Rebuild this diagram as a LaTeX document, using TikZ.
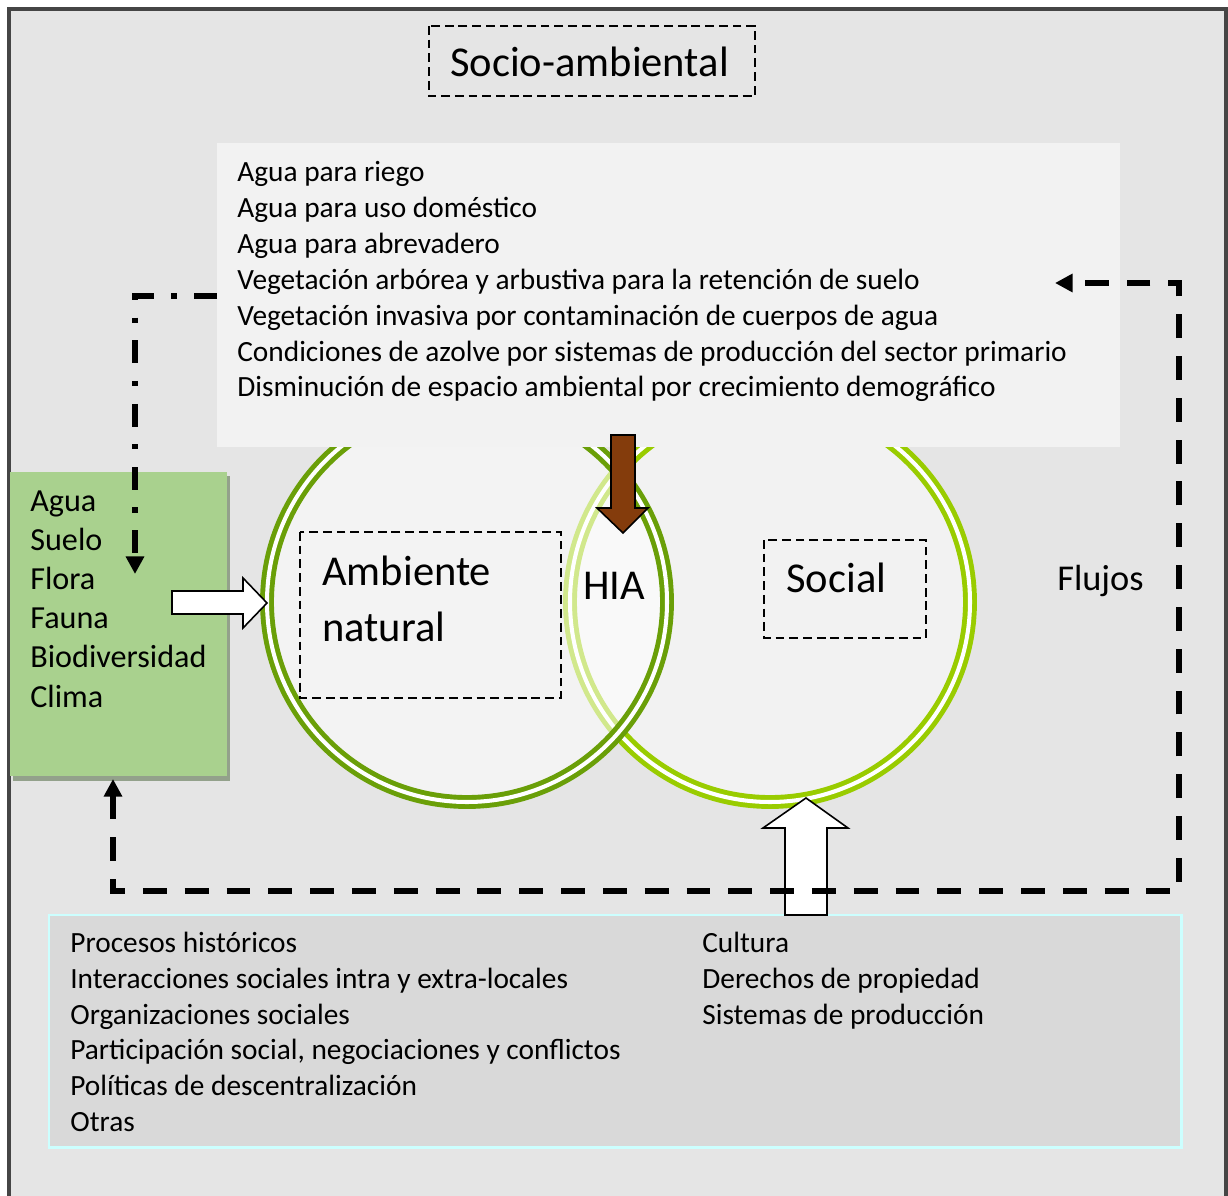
\documentclass[tikz,border=0pt]{standalone}
\usepackage{fontspec}
\setmainfont{Carlito}
\usepackage{tikz}
\usetikzlibrary{arrows.meta}

\definecolor{fondo}{HTML}{E5E5E5}
\definecolor{marco}{HTML}{454545}
\definecolor{claro}{HTML}{F2F2F2}
\definecolor{verdeosc}{HTML}{6A9F08}
\definecolor{verdecla}{HTML}{99CC00}
\definecolor{verdecaja}{HTML}{A9D18E}
\definecolor{sombra}{HTML}{93A18B}
\definecolor{cafe}{HTML}{843C0C}
\definecolor{grisbajo}{HTML}{D9D9D9}
\definecolor{cian}{HTML}{CCFFFF}

\begin{document}
\begin{tikzpicture}[x=0.02cm, y=-0.02cm,
  linea/.style={anchor=base west, inner sep=0pt, font=\fontsize{16.7}{19}\selectfont},
  recurso/.style={anchor=base west, inner sep=0pt, font=\fontsize{18.3}{21}\selectfont},
  titulo/.style={anchor=base west, inner sep=0pt, font=\fontsize{24.2}{28}\selectfont},
  caja/.style={draw=black, line width=1.1pt, dash pattern=on 5pt off 2.8pt},
  flujo/.style={line width=3.1pt, dash pattern=on 13.6pt off 10.2pt},
  puntoraya/.style={line width=3.1pt, dash pattern=on 13pt off 10pt on 3pt off 10pt},
  punta/.style={-{Triangle[length=10pt,width=10pt]}},
  bloque/.style={draw=black, line width=0.9pt, fill=white, line join=miter},
  anillo/.style={line width=2.8pt, double=white, double distance=2.3pt}]
\clip (0,0) rectangle (1228,1196);
\fill[white] (0,0) rectangle (1228,1196);
\filldraw[fill=fondo, draw=marco, line width=1.8pt] (9,9) rectangle (1226,1210);

% circulos
\fill[claro] (770,602) circle (200);
\draw[anillo, draw=verdecla] (770,602) circle (200);
\fill[white, fill opacity=0.55] (467,602) circle (200);
\draw[anillo, draw=verdeosc] (467,602) circle (200);

% recuadro de usos
\fill[claro] (217,143) rectangle (1120,447);
\foreach \t [count=\i] in {Agua para riego, Agua para uso doméstico, Agua para abrevadero,
  Vegetación arbórea y arbustiva para la retención de suelo,
  Vegetación invasiva por contaminación de cuerpos de agua,
  Condiciones de azolve por sistemas de producción del sector primario,
  Disminución de espacio ambiental por crecimiento demográfico}
  \node[linea] (uso\i) at (237,{182+35.8*(\i-1)}) {\t};

% flecha hacia HIA
\filldraw[draw=black, line width=0.9pt, fill=cafe, line join=miter]
  (611,435) -- (635,435) -- (635,508) -- (648,508) -- (623,533)
  -- (597,508) -- (611,508) -- cycle;

% recursos
\fill[sombra] (13,476) rectangle (230,781);
\fill[verdecaja] (10,472) rectangle (227,776);
\foreach \t [count=\i] in {Agua, Suelo, Flora, Fauna, Biodiversidad, Clima}
  \node[recurso] (rec\i) at (30,{511+39.2*(\i-1)}) {\t};
\filldraw[bloque] (172,591) -- (243,591) -- (243,578) -- (267,603)
  -- (243,628) -- (243,614) -- (172,614) -- cycle;

% procesos
\filldraw[fill=grisbajo, draw=cian, line width=1.7pt] (49,915) rectangle (1181,1147);
\foreach \t [count=\i] in {Procesos históricos, Interacciones sociales intra y extra-locales,
  Organizaciones sociales, {Participación social, negociaciones y conflictos},
  Políticas de descentralización, Otras}
  \node[linea] (proc\i) at (70,{952.5+35.8*(\i-1)}) {\t};
\foreach \t [count=\i] in {Cultura, Derechos de propiedad, Sistemas de producción}
  \node[linea] (cult\i) at (702,{952.5+35.8*(\i-1)}) {\t};
\filldraw[bloque] (785,915) -- (785,828) -- (763,828) -- (806,798)
  -- (848,828) -- (827,828) -- (827,915) -- cycle;

% flujos
\coordinate (finrec) at (113,779);
\coordinate (esqizq) at (113,891);
\coordinate (esqder) at (1179,891);
\coordinate (esqsup) at (1179,283);
\coordinate (finuso) at (1055,283);
\draw[flujo, {Triangle[length=10pt,width=10pt]}-{Triangle[length=10pt,width=10pt]}]
  (finrec) -- (esqizq) -- (esqder) -- (esqsup) -- (finuso);
\coordinate (iniuso) at (217,296);
\coordinate (esqpr) at (135,296);
\coordinate (finpr) at (135,574);
\draw[puntoraya, punta] (iniuso) -- (esqpr) -- (finpr);

% etiquetas
\draw[caja] (429,26) rectangle (755,96);
\node[titulo] (socio) at (450,77) {Socio-ambiental};
\draw[caja] (300,532) rectangle (561,698);
\node[titulo] (amb1) at (322,585) {Ambiente};
\node[titulo] (amb2) at (322,641) {natural};
\draw[caja] (764,540) rectangle (926,638);
\node[titulo] (social) at (786,592) {Social};
\node[titulo] (hia) at (583,599) {HIA};
\node[anchor=base west, inner sep=0pt, font=\fontsize{20.7}{24}\selectfont] (flujos) at (1057,590) {Flujos};
\end{tikzpicture}
\end{document}
